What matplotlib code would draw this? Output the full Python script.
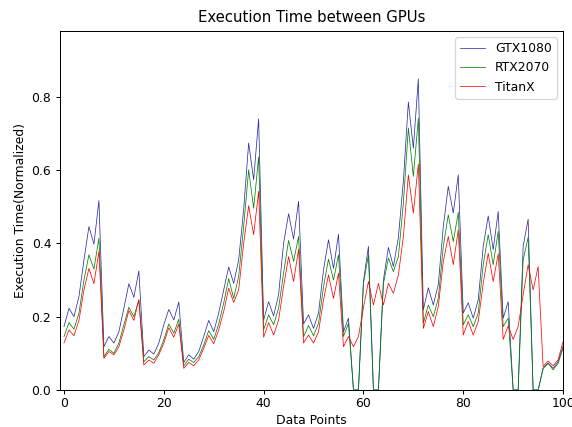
import matplotlib
matplotlib.use("Agg")
import matplotlib.pyplot as plt

# normalized execution time per data point
gtx1080 = [0.173, 0.223, 0.200, 0.255, 0.355, 0.446, 0.398, 0.517, 0.118, 0.146,
           0.128, 0.159, 0.223, 0.290, 0.253, 0.325, 0.091, 0.109, 0.098, 0.128,
           0.178, 0.220, 0.191, 0.240, 0.075, 0.096, 0.084, 0.105, 0.146, 0.190,
           0.159, 0.210, 0.273, 0.336, 0.291, 0.355, 0.492, 0.674, 0.574, 0.740,
           0.191, 0.241, 0.202, 0.260, 0.400, 0.481, 0.412, 0.515, 0.180, 0.205,
           0.168, 0.210, 0.328, 0.410, 0.332, 0.425, 0.159, 0.196, 0.0, 0.0,
           0.296, 0.392, 0.0, 0.0, 0.300, 0.389, 0.337, 0.416, 0.570, 0.786,
           0.660, 0.849, 0.219, 0.279, 0.232, 0.288, 0.446, 0.556, 0.483, 0.587,
           0.210, 0.238, 0.196, 0.246, 0.392, 0.475, 0.383, 0.487, 0.196, 0.241,
           0.0, 0.0, 0.392, 0.466, 0.0, 0.0, 0.059, 0.073, 0.059, 0.077,
           0.120]

rtx2070 = [0.146, 0.184, 0.166, 0.210, 0.300, 0.369, 0.330, 0.414, 0.091, 0.111,
           0.100, 0.128, 0.178, 0.226, 0.200, 0.246, 0.077, 0.091, 0.082, 0.102,
           0.137, 0.180, 0.155, 0.193, 0.066, 0.084, 0.075, 0.091, 0.123, 0.162,
           0.138, 0.180, 0.237, 0.304, 0.250, 0.310, 0.446, 0.601, 0.496, 0.636,
           0.164, 0.205, 0.178, 0.223, 0.319, 0.408, 0.351, 0.419, 0.145, 0.176,
           0.148, 0.182, 0.282, 0.357, 0.300, 0.369, 0.146, 0.182, 0.0, 0.0,
           0.291, 0.369, 0.0, 0.0, 0.290, 0.360, 0.323, 0.364, 0.510, 0.715,
           0.583, 0.742, 0.182, 0.232, 0.200, 0.250, 0.392, 0.478, 0.405, 0.485,
           0.178, 0.205, 0.173, 0.210, 0.342, 0.424, 0.342, 0.433, 0.173, 0.196,
           0.0, 0.0, 0.355, 0.417, 0.0, 0.0, 0.059, 0.073, 0.055, 0.073,
           0.114]

titanx = [0.128, 0.164, 0.148, 0.190, 0.273, 0.332, 0.290, 0.378, 0.086, 0.105,
          0.096, 0.118, 0.164, 0.217, 0.190, 0.246, 0.068, 0.082, 0.073, 0.096,
          0.128, 0.170, 0.144, 0.180, 0.059, 0.075, 0.066, 0.082, 0.114, 0.149,
          0.126, 0.164, 0.214, 0.278, 0.239, 0.273, 0.400, 0.503, 0.424, 0.542,
          0.144, 0.184, 0.150, 0.191, 0.282, 0.364, 0.296, 0.384, 0.128, 0.150,
          0.128, 0.159, 0.246, 0.314, 0.250, 0.319, 0.118, 0.146, 0.118, 0.146,
          0.225, 0.296, 0.232, 0.291, 0.232, 0.291, 0.264, 0.314, 0.419, 0.587,
          0.483, 0.617, 0.168, 0.214, 0.173, 0.228, 0.351, 0.419, 0.342, 0.437,
          0.150, 0.187, 0.150, 0.187, 0.291, 0.373, 0.296, 0.372, 0.138, 0.175,
          0.138, 0.173, 0.260, 0.342, 0.273, 0.337, 0.064, 0.079, 0.066, 0.082,
          0.132]

x = list(range(len(gtx1080)))

# default 6.4in wide figure, rendered at a dpi that gives ~573x427
fig = plt.figure(figsize=(6.4, 4.77), dpi=89.53)
ax = fig.add_axes([0.1047, 0.0867, 0.878, 0.8407])

ax.plot(x, gtx1080, color="#2b2ba6", linewidth=0.6, label="GTX1080")
ax.plot(x, rtx2070, color="green", linewidth=0.6, label="RTX2070")
ax.plot(x, titanx, color="red", linewidth=0.6, label="TitanX")

ax.set_xlim(-0.8, 100)
ax.set_ylim(0, 0.98)
ax.tick_params(axis="x", pad=2.5)
ax.set_title("Execution Time between GPUs", pad=7.5)
ax.set_xlabel("Data Points", labelpad=2.5)
ax.set_ylabel("Execution Time(Normalized)")
ax.legend(loc="upper right")

fig.savefig("out.png", dpi=89.53)
